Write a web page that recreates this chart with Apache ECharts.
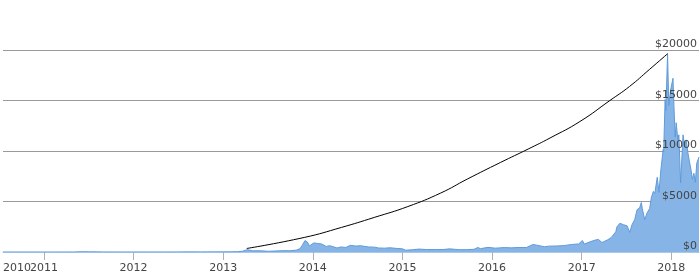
<!DOCTYPE html>
<html>
<head>
<meta charset="utf-8">
<script src="https://cdn.jsdelivr.net/npm/echarts@6/dist/echarts.min.js"></script>
<style>html,body{margin:0;padding:0;background:#fff}#c{width:700px;height:274px}</style>
</head>
<body>
<div id="c"></div>
<script>
// Price history (date, USD)
var priceDates = ['2010-07-18','2010-09-01','2010-11-01','2011-01-01','2011-02-10','2011-04-01','2011-05-01','2011-06-08','2011-07-01','2011-08-01','2011-09-01','2011-10-01','2011-11-18','2012-01-01','2012-03-01','2012-05-01','2012-07-01','2012-08-16','2012-10-01','2012-12-01','2013-01-01','2013-02-01','2013-03-01','2013-03-20','2013-04-09','2013-04-16','2013-05-01','2013-06-01','2013-07-05','2013-08-01','2013-09-01','2013-10-01','2013-10-25','2013-11-10','2013-11-20','2013-11-30','2013-12-04','2013-12-10','2013-12-18','2013-12-25','2014-01-05','2014-01-20','2014-02-05','2014-02-25','2014-03-10','2014-04-10','2014-04-25','2014-05-15','2014-06-03','2014-06-25','2014-07-15','2014-08-15','2014-09-10','2014-09-25','2014-10-20','2014-11-12','2014-12-10','2015-01-01','2015-01-14','2015-02-10','2015-03-10','2015-04-10','2015-05-15','2015-06-15','2015-07-12','2015-08-20','2015-09-20','2015-10-20','2015-11-04','2015-11-15','2015-12-15','2016-01-15','2016-02-20','2016-03-20','2016-04-20','2016-05-20','2016-06-17','2016-07-01','2016-08-02','2016-08-20','2016-09-20','2016-10-20','2016-11-20','2016-12-20','2017-01-04','2017-01-12','2017-02-01','2017-02-25','2017-03-10','2017-03-25','2017-04-15','2017-05-01','2017-05-20','2017-05-25','2017-06-06','2017-06-12','2017-06-20','2017-07-05','2017-07-16','2017-07-25','2017-08-05','2017-08-15','2017-08-25','2017-09-01','2017-09-05','2017-09-15','2017-09-25','2017-10-05','2017-10-12','2017-10-20','2017-10-26','2017-11-05','2017-11-12','2017-11-20','2017-11-29','2017-12-01','2017-12-07','2017-12-10','2017-12-17','2017-12-22','2017-12-29','2018-01-08','2018-01-12','2018-01-17','2018-01-21','2018-01-28','2018-02-01','2018-02-08','2018-02-13','2018-02-18','2018-02-25','2018-03-03','2018-03-10','2018-03-15','2018-03-22','2018-03-28','2018-04-03','2018-04-09','2018-04-15','2018-04-24'];
var priceValues = [0.09,0.06,0.2,0.3,1.0,0.8,3.5,29,16,13,8,5,2.2,5,5,5,7,13,12,13,13,20,34,70,230,80,115,120,70,100,130,125,180,330,700,1130,1240,980,600,720,900,850,800,550,630,400,500,450,660,590,620,500,480,400,380,420,350,315,180,220,290,240,240,245,310,230,230,270,450,330,460,380,440,410,450,440,750,680,520,580,600,630,740,800,1140,780,980,1180,1250,940,1180,1420,2000,2500,2850,2950,2700,2600,1950,2700,3200,4200,4350,4900,4300,3200,3900,4300,5400,6000,5800,7400,5900,8200,10150,9900,15100,14000,19600,14500,16000,17200,14400,11400,12800,11100,11600,6850,9200,11600,10400,11100,9800,9100,8200,7200,7800,6900,8800,9400];
// Trend curve (date, USD)
var trendDates = ['2013-04-07','2013-11-27','2014-04-27','2014-09-08','2015-01-23','2015-06-06','2015-09-23','2016-02-04','2016-05-28','2016-08-25','2016-12-25','2017-04-26','2017-07-15','2017-10-04','2017-12-18'];
var trendValues = [350,1440,2430,3420,4500,5840,7230,8860,10200,11290,12920,15000,16390,18070,19650];
// Axis settings
var xMin = '2010-07-18', xMax = '2018-04-24';
var yearTicks = [2011,2012,2013,2014,2015,2016,2017,2018];
var yTicks = [0,5000,10000,15000,20000];

// date string -> fractional year
function fy(s){
  var p=s.split('-'), y=+p[0];
  var t=Date.UTC(y,+p[1]-1,+p[2]), a=Date.UTC(y,0,1), b=Date.UTC(y+1,0,1);
  return y+(t-a)/(b-a);
}
function zip(a,b){return a.map(function(d,i){return [fy(d),b[i]];});}
var yMin = yTicks[0], yMax = yTicks[yTicks.length-1], yStep = yTicks[1]-yTicks[0];
var labelFont = {color:'#444', fontFamily:'DejaVu Sans', fontSize:11, margin:11,
  formatter:function(v){return String(Math.floor(v+1e-6));}};
var chart = echarts.init(document.getElementById('c'), null, {renderer:'canvas'});
chart.setOption({
  animation:false,
  backgroundColor:'#fff',
  grid:{left:0,right:0,top:50,height:202},
  xAxis:[{
    type:'value', position:'bottom', min:fy(xMin), max:fy(xMax),
    splitLine:{show:false},
    axisLine:{show:true,lineStyle:{color:'#a9c9ea',width:1}},
    axisTick:{show:true,length:8,lineStyle:{color:'#b0b0b0'},customValues:yearTicks},
    axisLabel:Object.assign({customValues:yearTicks, showMinLabel:true, showMaxLabel:true, hideOverlap:false}, labelFont)
  },{
    type:'value', position:'bottom', min:fy(xMin), max:fy(xMax),
    splitLine:{show:false}, axisLine:{show:false}, axisTick:{show:false},
    axisLabel:Object.assign({customValues:[fy(xMin)], showMinLabel:true, alignMinLabel:'left', hideOverlap:false}, labelFont)
  }],
  yAxis:[{
    type:'value', position:'right', min:yMin, max:yMax, interval:yStep,
    axisLine:{show:false}, axisTick:{show:false}, axisLabel:{show:false},
    splitLine:{lineStyle:{color:'#9a9a9a',width:1}}
  },{
    type:'value', position:'right', min:yMin, max:yMax, interval:yStep, z:20,
    axisLine:{show:false}, axisTick:{show:false}, splitLine:{show:false},
    axisLabel:{inside:true, margin:2, verticalAlign:'bottom', align:'right',
      color:'#444', fontFamily:'DejaVu Sans', fontSize:11,
      formatter:function(v){return '$'+v;}}
  }],
  series:[
    {type:'line', xAxisIndex:0, yAxisIndex:0, data:zip(priceDates,priceValues), showSymbol:false, symbol:'none',
     lineStyle:{color:'#5f9bd9',width:1}, areaStyle:{color:'#86b4e7',opacity:1}, z:2},
    {type:'line', xAxisIndex:0, yAxisIndex:0, data:zip(trendDates,trendValues), showSymbol:false, symbol:'none', smooth:true,
     lineStyle:{color:'#000',width:1}, z:3}
  ]
});
</script>
</body>
</html>
